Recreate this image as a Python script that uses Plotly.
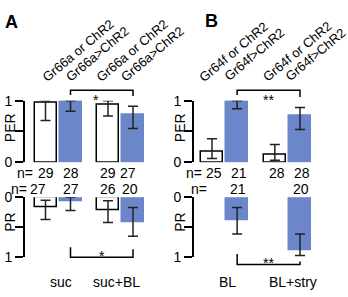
import plotly.graph_objects as go

W, H = 348, 297
FONT = "Liberation Sans, Arial, sans-serif"
BLUE = "#6b87c9"

# ---------------- data ----------------
headers_A = ["Gr66a or ChR2", "Gr66a>ChR2", "Gr66a or ChR2", "Gr66a>ChR2"]
headers_B = ["Gr64f or ChR2", "Gr64f>ChR2", "Gr64f or ChR2", "Gr64f>ChR2"]
groups_A = ["suc", "suc+BL"]
groups_B = ["BL", "BL+stry"]

per_A = [0.97, 1.00, 0.93, 0.77]
per_A_lo = [0.68, 0.83, 0.75, 0.55]
per_A_hi = [1.00, 1.00, 1.00, 0.91]
n_per_A = [29, 28, 29, 27]

pr_A = [0.17, 0.06, 0.22, 0.41]
pr_A_lo = [0.05, 0.00, 0.06, 0.17]
pr_A_hi = [0.37, 0.22, 0.42, 0.65]
n_pr_A = [27, 27, 26, 20]

per_B = [0.17, 1.00, 0.12, 0.75]
per_B_lo = [0.06, 0.87, 0.03, 0.53]
per_B_hi = [0.38, 1.00, 0.29, 0.89]
n_per_B = [25, 21, 28, 28]

pr_B = [None, 0.38, None, 0.88]
pr_B_lo = [None, 0.17, None, 0.61]
pr_B_hi = [None, 0.61, None, 0.97]
n_pr_B = [None, 21, None, 20]

sig_A = ["*", "*"]
sig_B = ["**", "**"]

# ---------------- layout helpers ----------------
pos = [0, 1, 2.5, 3.5]          # bar slots
colors = ["white", BLUE, "white", BLUE]
edges = ["black", BLUE, "black", BLUE]


def px(x):
    return x / W


def py(y):
    return 1 - y / H


def bars(vals, lo, hi, xa, ya):
    plus = [None if v is None else h - v for v, h in zip(vals, hi)]
    minus = [None if v is None else v - l for v, l in zip(vals, lo)]
    return go.Bar(
        x=pos, y=vals, width=0.88, xaxis=xa, yaxis=ya,
        marker=dict(color=colors, line=dict(color=edges, width=1.5)),
        error_y=dict(type="data", symmetric=False, array=plus, arrayminus=minus,
                     color="#222222", thickness=1.5, width=5),
        showlegend=False, cliponaxis=False, hoverinfo="skip",
    )


fig = go.Figure()
fig.add_trace(bars(per_A, per_A_lo, per_A_hi, "x", "y"))
fig.add_trace(bars(pr_A, pr_A_lo, pr_A_hi, "x2", "y2"))
fig.add_trace(bars(per_B, per_B_lo, per_B_hi, "x3", "y3"))
fig.add_trace(bars(pr_B, pr_B_lo, pr_B_hi, "x4", "y4"))

xA = dict(domain=[px(25), px(158)], range=[-0.82, 4.5])
xB = dict(domain=[px(194), px(325)], range=[-0.716, 4.495])
yPER = dict(domain=[py(163), py(98)], range=[0, 1])
yPR = dict(domain=[py(263.5), py(200)], range=[1, 0])


def yax(base, anchor, vals, text):
    d = dict(base)
    d.update(anchor=anchor, tickvals=vals, ticktext=text, showline=True,
             linecolor="black", linewidth=2, ticks="outside", ticklen=8,
             tickwidth=2, tickcolor="black", showgrid=False, zeroline=False,
             tickfont=dict(family=FONT, size=14, color="black"))
    return d


def xax(base, anchor):
    d = dict(base)
    d.update(anchor=anchor, visible=False)
    return d


ann = []


def text(x, y, t, size=14, xref="paper", angle=0, xshift=0, bold=False):
    ann.append(dict(x=x, y=y, xref=xref, yref="paper", text=("<b>%s</b>" % t) if bold else t,
                    showarrow=False, xanchor="center", yanchor="middle",
                    textangle=angle, xshift=xshift,
                    font=dict(family=FONT, size=size, color="black")))


# panel letters
text(px(11), py(15), "A", size=18, bold=True)
text(px(211.5), py(14), "B", size=18, bold=True)

# rotated headers (anchored on bar slots)
hdr_shift_A = [32.6, 27.4, 24.1, 19.9]
hdr_shift_B = [21.8, 17.1, 22.2, 15.5]
hdr_y = [44.7, 48.3, 44.7, 48.3]
hdr_yB = [45.8, 49.4, 45.8, 49.4]
for i in range(4):
    text(pos[i], py(hdr_y[i]), headers_A[i], size=13, xref="x", angle=-40, xshift=hdr_shift_A[i])
    text(pos[i], py(hdr_yB[i]), headers_B[i], size=13, xref="x3", angle=-40, xshift=hdr_shift_B[i])

# axis titles
text(px(10), py(127), "PER", angle=-90)
text(px(10), py(227), "PR", angle=-90)
text(px(180), py(127), "PER", angle=-90)
text(px(180), py(227), "PR", angle=-90)

# n rows
text(px(24.5), py(174), "n=")
text(px(193.5), py(174), "n=")
text(px(19), py(191), "n=")
text(px(199), py(191), "n=")
nA1_shift = [0, 0, 0, -5]
nA2_shift = [-8, 0, 0, -3]
for i in range(4):
    text(pos[i], py(174), str(n_per_A[i]), xref="x", xshift=nA1_shift[i])
    text(pos[i], py(191), str(n_pr_A[i]), xref="x", xshift=nA2_shift[i])
    text(pos[i], py(174), str(n_per_B[i]), xref="x3", xshift=2)
    if n_pr_B[i] is not None:
        text(pos[i], py(191), str(n_pr_B[i]), xref="x3", xshift=1)

# group labels
text((pos[0] + pos[1]) / 2, py(290), groups_A[0], xref="x", xshift=3)
text((pos[2] + pos[3]) / 2, py(290), groups_A[1], xref="x", xshift=-4)
text((pos[0] + pos[1]) / 2, py(290), groups_B[0], xref="x3", xshift=3)
text((pos[2] + pos[3]) / 2, py(290), groups_B[1], xref="x3", xshift=6)

# significance brackets
shapes = []


def bracket(xref, x1, x2, ytop, y1, y2):
    path = "M %f,%f L %f,%f L %f,%f L %f,%f" % (x1, py(y1), x1, py(ytop), x2, py(ytop), x2, py(y2))
    shapes.append(dict(type="path", path=path, xref=xref, yref="paper",
                       line=dict(color="black", width=1.5)))


bracket("x", pos[1], pos[3], 87, 92, 93)
bracket("x3", pos[1], pos[3], 87, 92, 94)
bracket("x", pos[1], pos[3], 263.5, 253, 255)
bracket("x3", pos[1], pos[3], 271, 260, 268)

text((pos[1] + pos[3]) / 2, py(97), sig_A[0], xref="x", xshift=-6)
text((pos[1] + pos[3]) / 2, py(97), sig_B[0], xref="x3")
text((pos[1] + pos[3]) / 2, py(262), sig_A[1], xref="x")
text((pos[1] + pos[3]) / 2, py(269), sig_B[1], xref="x3")

fig.update_layout(
    width=W, height=H, margin=dict(l=0, r=0, t=0, b=0),
    paper_bgcolor="white", plot_bgcolor="white",
    xaxis=xax(xA, "y"), yaxis=yax(yPER, "x", [0, 0.5, 1], ["0", "", "1"]),
    xaxis2=xax(xA, "y2"), yaxis2=yax(yPR, "x2", [0, 0.5, 1], ["0", "", "1"]),
    xaxis3=xax(xB, "y3"), yaxis3=yax(yPER, "x3", [0, 0.5, 1], ["0", "", "1"]),
    xaxis4=xax(xB, "y4"), yaxis4=yax(yPR, "x4", [0, 0.5, 1], ["0", "", "1"]),
    annotations=ann, shapes=shapes, bargap=0,
)

fig.write_html("out.html")
